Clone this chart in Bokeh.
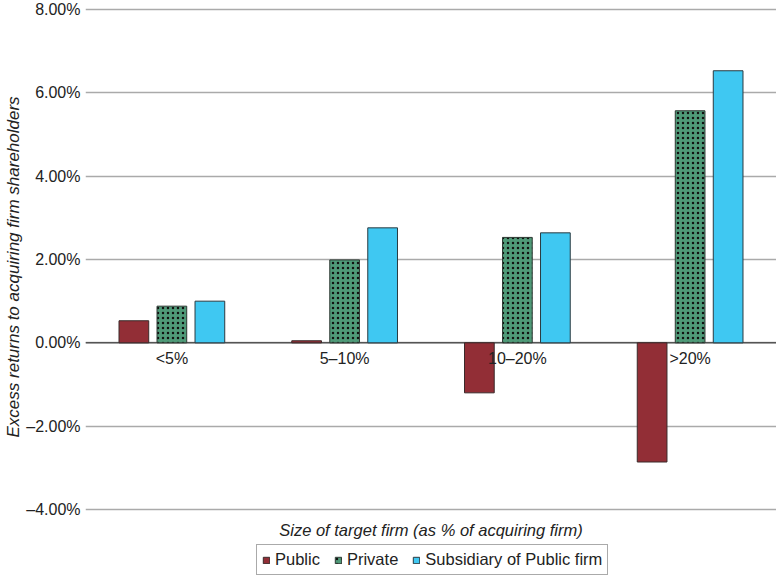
from bokeh.plotting import figure
from bokeh.models import (ColumnDataSource, FactorRange, Range1d, FixedTicker, Span,
                          Legend, LegendItem, Title, Label)
from bokeh.transform import dodge
from bokeh.core.properties import value
from bokeh.embed import file_html
from bokeh.resources import INLINE

categories = ["<5%", "5–10%", "10–20%", ">20%"]
public = [0.53, 0.05, -1.20, -2.86]
private = [0.88, 1.99, 2.53, 5.57]
subsidiary = [1.00, 2.76, 2.64, 6.53]
series_names = ["Public", "Private", "Subsidiary of Public firm"]
y_ticks = [-4, -2, 0, 2, 4, 6, 8]
y_tick_labels = ["–4.00%", "–2.00%", "0.00%", "2.00%", "4.00%", "6.00%", "8.00%"]
x_title = "Size of target firm (as % of acquiring firm)"
y_title = "Excess returns to acquiring firm shareholders"

FONT = "Liberation Sans"
TXT = "#222222"

src = ColumnDataSource(dict(cat=categories, public=public, private=private,
                            subsidiary=subsidiary, zero=[0] * len(categories)))

# the frame spans the full height; the area below -4% holds the x title and legend
p = figure(x_range=FactorRange(*categories, range_padding=0), y_range=Range1d(-5.608, 8.216),
           width=776, height=576, output_backend="svg", toolbar_location=None,
           min_border_top=0, min_border_right=0, min_border_left=0, min_border_bottom=0)
p.outline_line_color = None
p.background_fill_color = "white"

# grid
p.xgrid.grid_line_color = None
p.ygrid.grid_line_color = "#aaaaaa"
p.ygrid.grid_line_width = 1.4
p.ygrid.ticker = FixedTicker(ticks=y_ticks)

zero = Span(location=0, dimension="width", line_color="#555555", line_width=1.5,
            level="underlay")
p.add_layout(zero)

w = 0.172
r1 = p.vbar(x=dodge("cat", -0.22, range=p.x_range), top="public", bottom="zero", width=w,
            source=src, fill_color="#922e36", line_color="#3a2a2a", line_width=1)
r2 = p.vbar(x=dodge("cat", 0.0, range=p.x_range), top="private", bottom="zero", width=w,
            source=src, fill_color="#4f9a78", line_color="#2f3a34", line_width=1,
            hatch_pattern="dot", hatch_color="#111111", hatch_scale=5, hatch_weight=1)
r3 = p.vbar(x=dodge("cat", 0.22, range=p.x_range), top="subsidiary", bottom="zero", width=w,
            source=src, fill_color="#3fc8f2", line_color="#2a3a40", line_width=1)

# category labels at zero line
p.text(x="cat", y="zero", text="cat", source=src, text_align="center",
       text_baseline="top", y_offset=7, text_font=value(FONT),
       text_font_size="16px", text_color=TXT)

# y axis
p.yaxis.ticker = FixedTicker(ticks=y_ticks)
p.yaxis.major_label_overrides = {t: l for t, l in zip(y_ticks, y_tick_labels)}
p.yaxis.axis_line_color = None
p.yaxis.major_tick_line_color = None
p.yaxis.minor_tick_line_color = None
p.yaxis.major_tick_out = 0
p.yaxis.major_label_text_font = FONT
p.yaxis.major_label_text_font_size = "16px"
p.yaxis.major_label_text_color = TXT
p.yaxis.major_label_standoff = 5

p.add_layout(Title(text=y_title, align="left", offset=139, standoff=2,
                   text_font=FONT, text_font_size="17px", text_font_style="italic",
                   text_color=TXT), "left")

p.xaxis.visible = False
p.add_layout(Label(x=2.0, y=-4.50, text=x_title, text_align="center",
                   text_baseline="middle", text_font=FONT, text_font_size="16.5px",
                   text_font_style="italic", text_color=TXT))

legend = Legend(items=[LegendItem(label=series_names[0], renderers=[r1]),
                       LegendItem(label=series_names[1], renderers=[r2]),
                       LegendItem(label=series_names[2], renderers=[r3])],
                orientation="horizontal", location=(171, 1),
                glyph_width=8, glyph_height=8, label_text_font=FONT,
                label_text_font_size="16.5px", label_text_color=TXT,
                label_standoff=5, spacing=14, padding=5, margin=0,
                border_line_color="#555555", border_line_width=1,
                label_height=16, background_fill_color="white")
p.add_layout(legend, "center")

open("out.html", "w").write(file_html(p, INLINE))
